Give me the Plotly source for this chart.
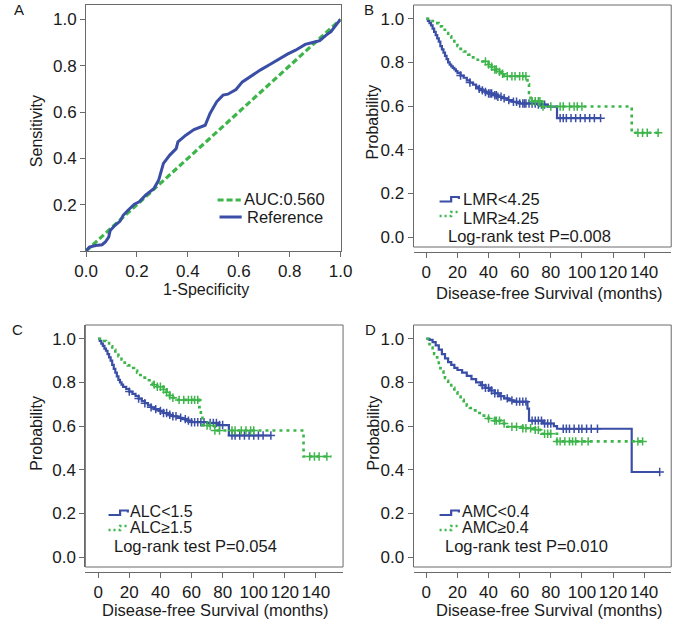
import plotly.graph_objects as go

W, H = 689, 624
def px(x): return x / W
def py(y): return 1 - y / H

FONT = "Liberation Sans, Arial, sans-serif"
BLUE = "#3a4ea6"
GREEN = "#3db54a"
AXC = "#6a6a6a"
TXT = "#1a1a1a"

# ---------------- Panel A : ROC ----------------
roc_fpr = [0, 0.013, 0.038, 0.063, 0.076, 0.089, 0.095, 0.114, 0.133, 0.146, 0.165, 0.19, 0.209,
           0.222, 0.234, 0.266, 0.285, 0.304, 0.329, 0.354, 0.361, 0.392, 0.424, 0.468, 0.487,
           0.513, 0.538, 0.557, 0.589, 0.614, 0.646, 0.684, 0.722, 0.759, 0.791, 0.823, 0.861,
           0.886, 0.918, 0.943, 0.962, 0.987, 1.0]
roc_tpr = [0, 0.017, 0.024, 0.027, 0.039, 0.06, 0.089, 0.111, 0.128, 0.154, 0.176, 0.202, 0.212,
           0.226, 0.241, 0.269, 0.305, 0.378, 0.414, 0.442, 0.471, 0.5, 0.524, 0.543, 0.594,
           0.644, 0.673, 0.677, 0.697, 0.73, 0.755, 0.781, 0.805, 0.831, 0.85, 0.867, 0.892,
           0.899, 0.908, 0.932, 0.947, 0.983, 1.0]
diag_x = [0, 1]
diag_y = [0, 1]
roc_ticks = [0, 0.2, 0.4, 0.6, 0.8, 1.0]

# ---------------- Panel B : LMR ----------------
b_low_t = [0, 1, 2, 3, 4, 5, 6, 7, 8, 9, 10, 11, 12, 13, 14, 15, 16, 17, 18, 19, 20, 22, 24, 26,
           28, 30, 32, 34, 36, 38, 40, 43, 46, 49, 52, 55, 60, 72, 78, 84]
b_low_s = [1.0, 0.99, 0.98, 0.97, 0.955, 0.94, 0.925, 0.91, 0.895, 0.875, 0.86, 0.845, 0.83, 0.815,
           0.80, 0.79, 0.782, 0.775, 0.768, 0.76, 0.752, 0.74, 0.73, 0.718, 0.708, 0.698, 0.688,
           0.679, 0.672, 0.665, 0.658, 0.65, 0.643, 0.636, 0.628, 0.62, 0.612, 0.607, 0.598, 0.545]
b_low_end = 112
b_low_cens = [22, 28, 34, 36, 38, 40, 41, 42, 44, 45, 46, 48, 50, 53, 56, 58, 60, 62, 63, 64, 66,
              68, 70, 72, 74, 76, 86, 88, 90, 93, 96, 99, 102, 105, 108, 112]
b_high_t = [0, 3, 6, 8, 10, 12, 14, 16, 18, 20, 22, 24, 27, 30, 33, 36, 40, 42, 44, 46, 48, 50,
            65, 66, 67, 74, 132]
b_high_s = [1.0, 0.99, 0.98, 0.965, 0.95, 0.935, 0.92, 0.905, 0.89, 0.875, 0.862, 0.85, 0.836,
            0.823, 0.812, 0.805, 0.79, 0.78, 0.768, 0.757, 0.748, 0.737, 0.70, 0.66, 0.622, 0.598,
            0.478]
b_high_end = 150
b_high_cens = [38, 40, 42, 44, 45, 47, 49, 52, 55, 57, 60, 62, 64, 68, 70, 72, 73, 75, 80, 86, 88,
               92, 95, 97, 100, 136, 139, 142, 149]

# ---------------- Panel C : ALC ----------------
c_low_t = [0, 1, 2, 3, 4, 5, 6, 7, 8, 9, 10, 11, 12, 13, 14, 15, 16, 18, 20, 22, 24, 26, 28, 30,
           32, 34, 36, 39, 42, 45, 48, 51, 54, 57, 60, 70, 77, 84]
c_low_s = [1.0, 0.99, 0.978, 0.967, 0.955, 0.945, 0.93, 0.915, 0.9, 0.88, 0.862, 0.845, 0.828,
           0.812, 0.80, 0.79, 0.78, 0.77, 0.758, 0.748, 0.738, 0.726, 0.715, 0.705, 0.695, 0.686,
           0.678, 0.67, 0.66, 0.652, 0.645, 0.638, 0.632, 0.625, 0.618, 0.615, 0.605, 0.557]
c_low_end = 111
c_low_cens = [20, 26, 30, 34, 37, 40, 42, 44, 46, 48, 50, 53, 56, 58, 60, 62, 64, 66, 68, 72, 74,
              76, 78, 80, 86, 88, 91, 94, 97, 100, 103, 106, 111]
c_high_t = [0, 3, 5, 7, 9, 11, 13, 15, 17, 19, 21, 23, 25, 27, 29, 31, 33, 35, 38, 42, 44, 46, 48,
            50, 65, 66, 67, 75, 132]
c_high_s = [1.0, 0.99, 0.98, 0.965, 0.95, 0.935, 0.92, 0.905, 0.89, 0.878, 0.866, 0.855, 0.845,
            0.834, 0.822, 0.81, 0.8, 0.79, 0.78, 0.768, 0.755, 0.74, 0.73, 0.72, 0.687, 0.645,
            0.603, 0.58, 0.461]
c_high_end = 150
c_high_cens = [36, 38, 40, 42, 44, 46, 48, 52, 55, 58, 60, 62, 64, 70, 72, 75, 78, 86, 88, 92, 95,
               98, 100, 136, 139, 142, 147]

# ---------------- Panel D : AMC ----------------
d_low_t = [0, 2, 4, 6, 8, 10, 12, 14, 16, 18, 20, 23, 26, 29, 32, 35, 38, 41, 44, 47, 50, 53, 56,
           65, 66, 75, 82, 84, 132]
d_low_s = [1.0, 0.995, 0.985, 0.97, 0.95, 0.93, 0.91, 0.893, 0.88, 0.867, 0.857, 0.845, 0.83, 0.815,
           0.8, 0.787, 0.775, 0.763, 0.75, 0.737, 0.727, 0.718, 0.712, 0.68, 0.625, 0.612, 0.60,
           0.588, 0.39]
d_low_end = 150
d_low_cens = [36, 38, 40, 42, 44, 46, 48, 52, 55, 58, 60, 62, 64, 68, 70, 72, 74, 76, 78, 80, 88,
              90, 92, 95, 98, 100, 103, 106, 110, 150]
d_high_t = [0, 1, 2, 3, 4, 5, 6, 7, 8, 9, 10, 11, 12, 13, 14, 16, 18, 20, 22, 24, 26, 28, 30, 33,
            36, 40, 44, 48, 52, 62, 70, 74, 84]
d_high_s = [1.0, 0.99, 0.975, 0.96, 0.945, 0.93, 0.915, 0.9, 0.88, 0.865, 0.85, 0.835, 0.82, 0.808,
            0.795, 0.775, 0.755, 0.735, 0.72, 0.705, 0.693, 0.683, 0.672, 0.66, 0.648, 0.635,
            0.625, 0.612, 0.597, 0.59, 0.583, 0.565, 0.53]
d_high_end = 140
d_high_cens = [40, 44, 45, 47, 50, 55, 58, 62, 64, 67, 70, 72, 76, 78, 80, 84, 86, 89, 92, 94, 96,
               100, 104, 136, 139]

km_ticks = [0, 20, 40, 60, 80, 100, 120, 140]
prob_ticks = [0, 0.2, 0.4, 0.6, 0.8, 1.0]


def surv_at(t, times, surv):
    v = surv[0]
    for tt, ss in zip(times, surv):
        if tt <= t:
            v = ss
    return v


fig = go.Figure()

# Panel A traces
fig.add_trace(go.Scatter(x=diag_x, y=diag_y, mode="lines", xaxis="x", yaxis="y",
                         line=dict(color=GREEN, width=3.2, dash="6px,3px"), showlegend=False))
fig.add_trace(go.Scatter(x=roc_fpr, y=roc_tpr, mode="lines", xaxis="x", yaxis="y",
                         line=dict(color=BLUE, width=3), showlegend=False))


def add_km(times, surv, end, cens, color, dotted, xa, ya):
    xs = list(times) + [end]
    ys = list(surv) + [surv[-1]]
    fig.add_trace(go.Scatter(x=xs, y=ys, mode="lines", xaxis=xa, yaxis=ya, line_shape="hv",
                             line=dict(color=color, width=2.2 if not dotted else 2.6,
                                       dash="3px,4px" if dotted else "solid"),
                             showlegend=False))
    cy = [surv_at(t, times, surv) for t in cens]
    fig.add_trace(go.Scatter(x=cens, y=cy, mode="markers", xaxis=xa, yaxis=ya,
                             marker=dict(symbol="cross-thin", size=6,
                                         line=dict(color=color, width=1.5)),
                             showlegend=False))


add_km(b_low_t, b_low_s, b_low_end, b_low_cens, BLUE, False, "x2", "y2")
add_km(b_high_t, b_high_s, b_high_end, b_high_cens, GREEN, True, "x2", "y2")
add_km(c_low_t, c_low_s, c_low_end, c_low_cens, BLUE, False, "x3", "y3")
add_km(c_high_t, c_high_s, c_high_end, c_high_cens, GREEN, True, "x3", "y3")
add_km(d_low_t, d_low_s, d_low_end, d_low_cens, BLUE, False, "x4", "y4")
add_km(d_high_t, d_high_s, d_high_end, d_high_cens, GREEN, True, "x4", "y4")

tickfont = dict(family=FONT, size=17, color=TXT)
common = dict(showgrid=False, zeroline=False, showline=True, linecolor=AXC, linewidth=1,
              ticks="outside", ticklen=5, tickcolor=AXC, tickfont=tickfont)

layout = dict(
    width=W, height=H, margin=dict(l=0, r=0, t=0, b=0), autosize=False,
    paper_bgcolor="white", plot_bgcolor="white", showlegend=False,
    font=dict(family=FONT, color=TXT),
    xaxis=dict(domain=[px(76.7), px(340.5)], anchor="y", range=[0, 1], mirror=True,
               tickvals=roc_ticks, ticktext=["%.1f" % v for v in roc_ticks], **common),
    yaxis=dict(domain=[py(251), py(5)], anchor="x", range=[0, 1.062], mirror=True,
               tickvals=roc_ticks, ticktext=[""] + ["%.1f" % v for v in roc_ticks[1:]], **common),
)

km_x = dict(range=[-8.25, 157.4], tickvals=km_ticks, ticktext=[str(v) for v in km_ticks])
km_y = dict(range=[-0.045, 1.063], tickvals=prob_ticks, ticktext=["%.1f" % v for v in prob_ticks])

panels = {
    2: dict(x0=416, x1=683, y0=5, y1=247, axis=252),
    3: dict(x0=76, x1=343, y0=325, y1=567, axis=572),
    4: dict(x0=416, x1=683, y0=325, y1=567, axis=572),
}
shapes = []
for k, p in panels.items():
    layout["xaxis%d" % k] = dict(domain=[px(p["x0"]), px(p["x1"])], anchor="free",
                                 position=py(p["axis"]), **km_x, **common)
    layout["yaxis%d" % k] = dict(domain=[py(p["y1"]), py(p["y0"])], anchor="x%d" % k,
                                 **km_y, **common)
    shapes.append(dict(type="rect", xref="x%d domain" % k, yref="y%d domain" % k,
                       x0=0, x1=1, y0=0, y1=1, line=dict(color=AXC, width=1)))

fig.update_layout(**layout)

annotations = []


def text(x, y, s, size=16.5, xanchor="left", angle=0):
    annotations.append(dict(x=px(x), y=py(y), xref="paper", yref="paper", text=s,
                            showarrow=False, xanchor=xanchor, yanchor="middle", textangle=angle,
                            font=dict(family=FONT, size=size, color=TXT)))


# panel letters
text(7.5, 9.7, "A", 15, "center")
text(370, 9.7, "B", 15, "center")
text(6, 329.5, "C", 15, "center")
text(371, 329.5, "D", 15, "center")

# axis titles
text(25, 131, "Sensitivity", 16, "center", -90)
text(201, 289.5, "1-Specificity", 16, "center")
text(374.5, 122, "Probability", 16, "center", -90)
text(556.7, 292.5, "Disease-free Survival (months)", 16.5, "center")
text(24.5, 433, "Probability", 16, "center", -90)
text(210.8, 609.5, "Disease-free Survival (months)", 16.5, "center")
text(374.5, 433, "Probability", 16, "center", -90)
text(556.7, 609.5, "Disease-free Survival (months)", 16.5, "center")

# Panel A legend
shapes.append(dict(type="line", xref="paper", yref="paper", x0=px(213), x1=px(237),
                   y0=py(200), y1=py(200), line=dict(color=GREEN, width=3, dash="6px,3px")))
shapes.append(dict(type="line", xref="paper", yref="paper", x0=px(215), x1=px(238),
                   y0=py(217), y1=py(217), line=dict(color=BLUE, width=3)))
text(238.5, 199.5, "AUC:0.560")
text(241, 216.5, "Reference")


def km_legend(x0, yb, yg, lab1, lab2, lab_x, ylab1, ylab2, lr_x, ylr, ptxt, lsize):
    xa, xm, xb = x0, x0 + 12, x0 + 20
    shapes.append(dict(type="path", xref="paper", yref="paper",
                       path="M %f,%f L %f,%f L %f,%f L %f,%f L %f,%f" % (
                           px(xa), py(yb), px(xm), py(yb), px(xm), py(yb - 4.5),
                           px(xb), py(yb - 4.5), px(xb), py(yb - 2.5)),
                       line=dict(color=BLUE, width=2.2)))
    shapes.append(dict(type="path", xref="paper", yref="paper",
                       path="M %f,%f L %f,%f L %f,%f L %f,%f" % (
                           px(xa), py(yg), px(xm), py(yg), px(xm), py(yg - 4),
                           px(xb), py(yg - 4)),
                       line=dict(color=GREEN, width=2.4, dash="2px,3px")))
    text(lab_x, ylab1, lab1, lsize)
    text(lab_x, ylab2, lab2, lsize)
    text(lr_x, ylr, ptxt)


km_legend(443, 201.5, 216, "LMR&lt;4.25", "LMR≥4.25", 465, 198.5, 217.5, 449.3, 236,
          "Log-rank test P=0.008", 16.5)
km_legend(100, 515, 530, "ALC&lt;1.5", "ALC≥1.5", 120.7, 511, 527, 103.3, 545.5,
          "Log-rank test P=0.054", 16)
km_legend(443, 515, 530, "AMC&lt;0.4", "AMC≥0.4", 464, 511, 527, 446.7, 545.5,
          "Log-rank test P=0.010", 16)

fig.update_layout(shapes=shapes, annotations=annotations)
fig.write_html(
    "out.html",
    config={"displayModeBar": False, "responsive": False},
    post_script=("document.documentElement.style.margin='0';"
                 "document.documentElement.style.overflow='hidden';"
                 "document.body.style.margin='0';document.body.style.padding='0';"
                 "document.body.style.overflow='hidden';"),
)
